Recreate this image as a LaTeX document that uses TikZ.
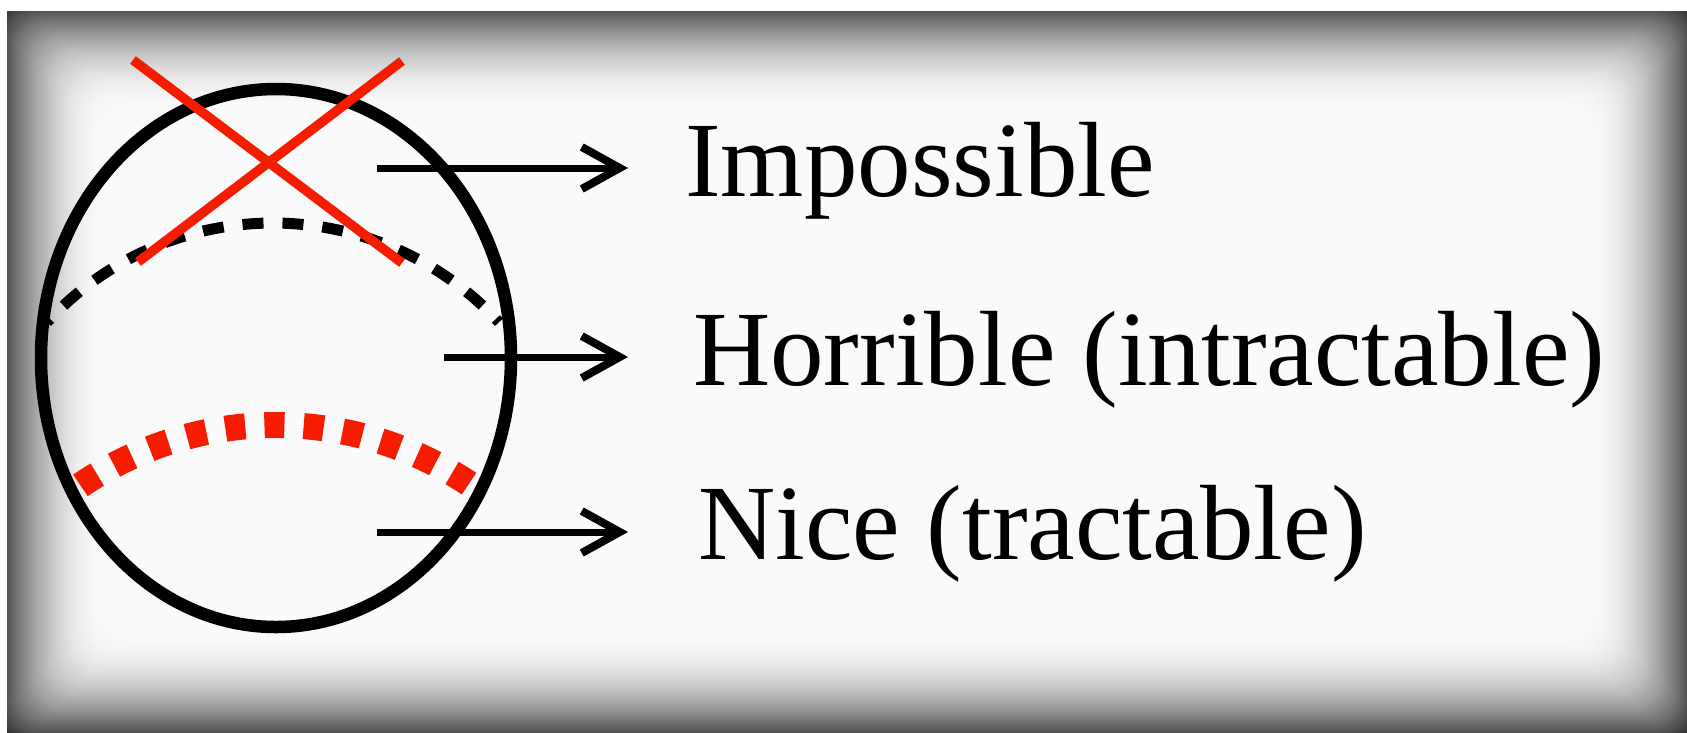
\documentclass[tikz,border=0pt]{standalone}
\usepackage{fontspec}
\setmainfont{Liberation Serif}
\usetikzlibrary{arrows.meta,shapes.geometric}
\definecolor{xred}{RGB}{245,28,0}
\tikzset{
  ball/.style={draw=black, ellipse, line width=12.5pt, inner sep=0pt, minimum width=470pt, minimum height=538pt},
  cross/.style={draw=xred, line width=9.5pt},
  blackdash/.style={draw=black, line width=11pt, dash pattern=on 21pt off 19pt, dash phase=16.5pt},
  reddash/.style={draw=xred, line width=26pt, dash pattern=on 20pt off 19.25pt},
  pointer/.style={draw=black, line width=7pt, -{Straight Barb[length=38pt,width=42pt,line width=8pt]}},
  label/.style={anchor=base west, inner sep=0pt, font=\fontsize{107}{120}\selectfont}
}
\begin{document}
\begin{tikzpicture}[x=1pt,y=-1pt]
\fill[white] (0,0) rectangle (1687,732);
\useasboundingbox (0,0) rectangle (1687,732);
% vignette frame
\begin{scope}
\clip (7,11) rectangle (1687,732);
\foreach \d in {-10,...,100}{
  \pgfmathsetmacro\dk{min(88,2+65*(1-\d/100)^2)}
  \fill[black!\dk, rounded corners=30pt] (7+\d,11+\d) rectangle (1687-\d,732-\d);
}
\end{scope}
% dashed arcs
\draw[blackdash] plot[domain=42.6:137.4, samples=90, smooth] ({273+307*cos(\x)},{530-307*sin(\x)});
\draw[reddash] plot[domain=56.2:124.3, samples=90, smooth] ({276+347*cos(\x)},{772-347*sin(\x)});
% ball
\node[ball] (ball) at (276,358) {};
% labels
\node[label] (imp) at (685,196) {Impossible};
\node[label] (hor) at (693,385) {Horrible (intractable)};
\node[label] (nice) at (698,559) {Nice (tractable)};
% arrows
\coordinate (s1) at (377,168);
\coordinate (e1) at (628,168);
\coordinate (s2) at (444,357);
\coordinate (e2) at (628,357);
\coordinate (s3) at (377,532);
\coordinate (e3) at (628,532);
\draw[pointer] (s1) -- (e1);
\draw[pointer] (s2) -- (e2);
\draw[pointer] (s3) -- (e3);
% red cross
\coordinate (xa1) at (133,60);
\coordinate (xa2) at (402,263);
\coordinate (xb1) at (402,61);
\coordinate (xb2) at (138,262);
\draw[cross] (xa1) -- (xa2);
\draw[cross] (xb1) -- (xb2);
\end{tikzpicture}
\end{document}
